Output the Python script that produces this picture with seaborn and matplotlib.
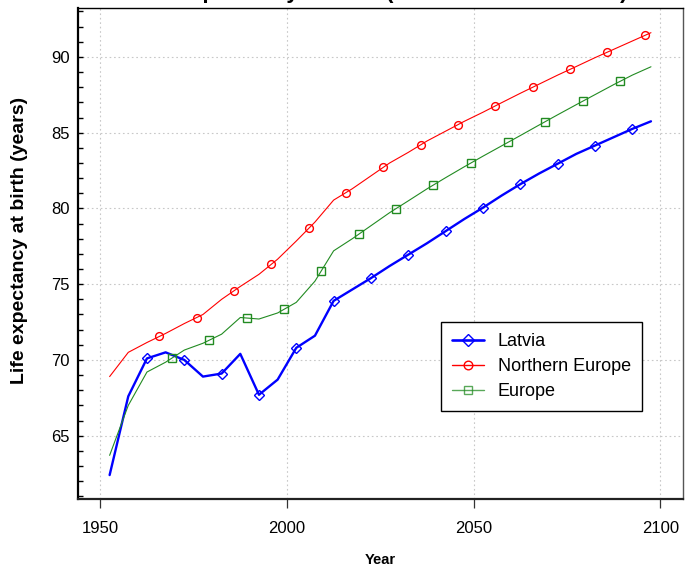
import numpy as np
import matplotlib
matplotlib.use("Agg")
import matplotlib.pyplot as plt
from matplotlib.lines import Line2D
from matplotlib.ticker import MultipleLocator
import seaborn as sns

# ---- data ----
years = [1952.5, 1957.5, 1962.5, 1967.5, 1972.5, 1977.5, 1982.5, 1987.5, 1992.5, 1997.5,
         2002.5, 2007.5, 2012.5, 2017.5, 2022.5, 2027.5, 2032.5, 2037.5, 2042.5, 2047.5,
         2052.5, 2057.5, 2062.5, 2067.5, 2072.5, 2077.5, 2082.5, 2087.5, 2092.5, 2097.5]
latvia = [62.4, 67.6, 70.1, 70.5, 70.0, 68.9, 69.1, 70.4, 67.7, 68.7,
          70.8, 71.6, 73.9, 74.65, 75.4, 76.2, 76.95, 77.7, 78.5, 79.3,
          80.05, 80.85, 81.6, 82.3, 82.95, 83.6, 84.15, 84.7, 85.25, 85.75]
northern_europe = [68.9, 70.5, 71.15, 71.75, 72.4, 73.0, 74.0, 74.85, 75.65, 76.65,
                   77.85, 79.1, 80.55, 81.3, 82.15, 83.0, 83.7, 84.45, 85.1, 85.75,
                   86.35, 86.98, 87.6, 88.2, 88.8, 89.37, 89.95, 90.5, 91.05, 91.6]
europe = [63.7, 67.0, 69.2, 69.85, 70.65, 71.1, 71.7, 72.8, 72.7, 73.1,
          73.8, 75.2, 77.2, 78.0, 78.86, 79.72, 80.5, 81.29, 82.03, 82.75,
          83.45, 84.13, 84.81, 85.5, 86.18, 86.85, 87.51, 88.17, 88.8, 89.35]
series_names = ["Latvia", "Northern Europe", "Europe"]
x_ticks = [1950, 2000, 2050, 2100]
y_ticks = [65, 70, 75, 80, 85, 90]
title = "Life expectancy at birth (both sexes combined)"
x_label = "Year"
y_label = "Life expectancy at birth (years)"

# ---- styles ----
colors = ["#0000FF", "#FF0000", "#228B22"]
widths = [1.7, 0.8, 0.8]
markers = ["D", "o", "s"]
msizes = [4.9, 5.6, 5.1]
mark_start = [1962.5, 1965.83, 1969.17]   # staggered marker placement along lines
mark_step = 10.0

sns.set_theme(style="white")
plt.rcParams["font.family"] = ["Liberation Sans", "DejaVu Sans"]
plt.rcParams["text.color"] = "black"
plt.rcParams["axes.labelcolor"] = "black"
plt.rcParams["xtick.color"] = "black"
plt.rcParams["ytick.color"] = "black"

fig = plt.figure(figsize=(6.95, 5.70), dpi=100)
ax = fig.add_axes([77.7 / 695, 1 - 499.3 / 570, 605 / 695, 491 / 570])

all_series = [latvia, northern_europe, europe]
for name, vals, c, lw, m, ms, st in zip(series_names, all_series, colors, widths,
                                         markers, msizes, mark_start):
    sns.lineplot(x=years, y=vals, ax=ax, color=c, linewidth=lw, legend=False,
                 estimator=None, sort=False)
    mx = np.arange(st, years[-1] + 1e-6, mark_step)
    my = np.interp(mx, years, vals)
    ax.plot(mx, my, linestyle="none", marker=m, markersize=ms,
            markerfacecolor="none", markeredgecolor=c, markeredgewidth=1.0)

ax.set_xlim(1943.95, 2106.0)
ax.set_ylim(60.8, 93.21)
ax.set_xticks(x_ticks)
ax.set_yticks(y_ticks)
ax.yaxis.set_minor_locator(MultipleLocator(1))

ax.grid(True, which="major", linestyle=(0, (1.5, 2.5)), color="#c8c8c8", linewidth=0.8)
ax.set_axisbelow(True)

ax.tick_params(axis="x", which="major", direction="out", length=6.5, width=0.9,
               color="#333333", labelcolor="black", labelsize=12, pad=9, bottom=True)
ax.tick_params(axis="y", which="both", direction="in", length=3.6, width=1.0,
               color="black", left=True)
ax.tick_params(axis="y", which="major", labelsize=12, pad=5.5, labelcolor="black")

for side, lw, col in [("left", 1.6, "black"), ("bottom", 1.6, "#222222"),
                      ("top", 1.0, "black"), ("right", 1.0, "#555555")]:
    ax.spines[side].set_visible(True)
    ax.spines[side].set_linewidth(lw)
    ax.spines[side].set_color(col)

ax.set_xlabel(x_label, fontsize=10.5, fontweight="bold", va="center", color="black")
ax.xaxis.set_label_coords(0.5, (499.3 - 560) / 491)
ax.set_ylabel(y_label, fontsize=14, fontweight="bold", va="center", color="black")
ax.yaxis.set_label_coords((20 - 77.7) / 605, (499.3 - 240) / 491)

# title sits mostly above the canvas, as in the reference (only descenders show)
fig.text(380 / 695, 1 + 2.0 / 570, title, ha="center", va="baseline",
         fontsize=16, fontweight="bold", color="black")

handles = []
for c, lw, m, ms, a in zip(colors, widths, markers, [6.2, 6.2, 5.6], [1.0, 1.0, 0.75]):
    handles.append(Line2D([0], [0], color=c, linewidth=1.9 if c == colors[0] else 1.0,
                          marker=m, markersize=ms, markerfacecolor="none",
                          markeredgecolor=c, markeredgewidth=1.0, alpha=a))
leg = ax.legend(handles, series_names, loc="lower left",
                bbox_to_anchor=((440.7 - 77.7) / 605, (499.3 - 411) / 491),
                borderaxespad=0, fontsize=13, frameon=True, fancybox=False,
                framealpha=1, edgecolor="black", handlelength=1.8,
                handletextpad=0.75, labelspacing=0.45, borderpad=0.6)
leg.get_frame().set_linewidth(1.0)
for t in leg.get_texts():
    t.set_color("black")

fig.savefig("out.png", dpi=100)
